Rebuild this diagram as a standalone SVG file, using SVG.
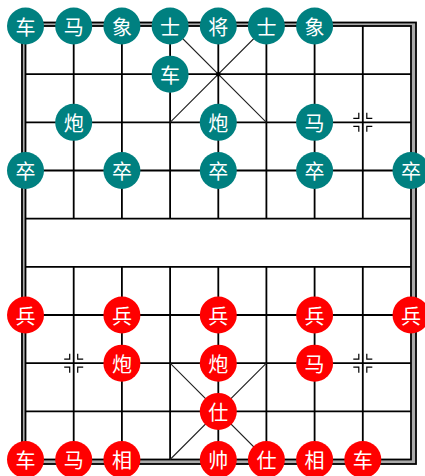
<svg xmlns="http://www.w3.org/2000/svg" width="425" height="476" viewBox="0 0 425 476">
<defs>
<style>
.grid{stroke:#000;stroke-width:1.8;fill:none}
.pal{stroke:#222;stroke-width:1.1;fill:none}
.mk{stroke:#000;stroke-width:1.2;fill:none}
.b circle{fill:#008080}
.r circle{fill:#ff0000}
text{font-family:"Noto Sans CJK SC","Noto Sans CJK TC",sans-serif;font-size:20px;fill:#fff;text-anchor:middle;dominant-baseline:central}
</style>
<g id="marker">
<path d="M-9.5,-4H-4V-9.5M9.5,-4H4V-9.5M-9.5,4H-4V9.5M9.5,4H4V9.5"/>
</g>
</defs>
<rect width="425" height="476" fill="#fff"/>
<g id="board">
<rect x="23.75" y="24.25" width="389.75" height="437.75" fill="none" stroke="#aaa" stroke-width="4"/>
<rect x="22" y="22.5" width="394" height="441.5" class="grid"/>
<rect x="25.5" y="26" width="385.5" height="433.5" class="grid"/>
<path class="grid" d="M25.5,74.2H411M25.5,122.3H411M25.5,170.5H411M25.5,218.7H411M25.5,266.9H411M25.5,315H411M25.5,363.2H411M25.5,411.4H411
M73.7,26V218.7M121.9,26V218.7M170.1,26V218.7M218.3,26V218.7M266.4,26V218.7M314.6,26V218.7M362.8,26V218.7
M73.7,266.9V459.5M121.9,266.9V459.5M170.1,266.9V459.5M218.3,266.9V459.5M266.4,266.9V459.5M314.6,266.9V459.5M362.8,266.9V459.5"/>
<path class="pal" d="M170.1,26L266.4,122.3M266.4,26L170.1,122.3M170.1,363.2L266.4,459.5M266.4,363.2L170.1,459.5"/>
<circle cx="218.3" cy="74.2" r="2.3" fill="#000"/>
<use href="#marker" class="mk" x="362.8" y="122.3"/>
<use href="#marker" class="mk" x="73.7" y="363.2"/>
<use href="#marker" class="mk" x="362.8" y="363.2"/>
</g>
<g id="black-pieces" class="b">
<g id="b-che1"><circle cx="25.5" cy="26" r="18.5"/><text x="25.5" y="26">车</text></g>
<g id="b-ma1"><circle cx="73.7" cy="26" r="18.5"/><text x="73.7" y="26">马</text></g>
<g id="b-xiang1"><circle cx="121.9" cy="26" r="18.5"/><text x="121.9" y="26">象</text></g>
<g id="b-shi1"><circle cx="170.1" cy="26" r="18.5"/><text x="170.1" y="26">士</text></g>
<g id="b-jiang"><circle cx="218.3" cy="26" r="18.5"/><text x="218.3" y="26">将</text></g>
<g id="b-shi2"><circle cx="266.4" cy="26" r="18.5"/><text x="266.4" y="26">士</text></g>
<g id="b-xiang2"><circle cx="314.6" cy="26" r="18.5"/><text x="314.6" y="26">象</text></g>
<g id="b-che2"><circle cx="170.1" cy="74.2" r="18.5"/><text x="170.1" y="74.2">车</text></g>
<g id="b-pao1"><circle cx="73.7" cy="122.3" r="18.5"/><text x="73.7" y="122.3">炮</text></g>
<g id="b-pao2"><circle cx="218.3" cy="122.3" r="18.5"/><text x="218.3" y="122.3">炮</text></g>
<g id="b-ma2"><circle cx="314.6" cy="122.3" r="18.5"/><text x="314.6" y="122.3">马</text></g>
<g id="b-zu1"><circle cx="25.5" cy="170.5" r="18.5"/><text x="25.5" y="170.5">卒</text></g>
<g id="b-zu2"><circle cx="121.9" cy="170.5" r="18.5"/><text x="121.9" y="170.5">卒</text></g>
<g id="b-zu3"><circle cx="218.3" cy="170.5" r="18.5"/><text x="218.3" y="170.5">卒</text></g>
<g id="b-zu4"><circle cx="314.6" cy="170.5" r="18.5"/><text x="314.6" y="170.5">卒</text></g>
<g id="b-zu5"><circle cx="411" cy="170.5" r="18.5"/><text x="411" y="170.5">卒</text></g>
</g>
<g id="red-pieces" class="r">
<g id="r-bing1"><circle cx="25.5" cy="315" r="18.5"/><text x="25.5" y="315">兵</text></g>
<g id="r-bing2"><circle cx="121.9" cy="315" r="18.5"/><text x="121.9" y="315">兵</text></g>
<g id="r-bing3"><circle cx="218.3" cy="315" r="18.5"/><text x="218.3" y="315">兵</text></g>
<g id="r-bing4"><circle cx="314.6" cy="315" r="18.5"/><text x="314.6" y="315">兵</text></g>
<g id="r-bing5"><circle cx="411" cy="315" r="18.5"/><text x="411" y="315">兵</text></g>
<g id="r-pao1"><circle cx="121.9" cy="363.2" r="18.5"/><text x="121.9" y="363.2">炮</text></g>
<g id="r-pao2"><circle cx="218.3" cy="363.2" r="18.5"/><text x="218.3" y="363.2">炮</text></g>
<g id="r-ma2"><circle cx="314.6" cy="363.2" r="18.5"/><text x="314.6" y="363.2">马</text></g>
<g id="r-shi1"><circle cx="218.3" cy="411.4" r="18.5"/><text x="218.3" y="411.4">仕</text></g>
<g id="r-che1"><circle cx="25.5" cy="459.5" r="18.5"/><text x="25.5" y="459.5">车</text></g>
<g id="r-ma1"><circle cx="73.7" cy="459.5" r="18.5"/><text x="73.7" y="459.5">马</text></g>
<g id="r-xiang1"><circle cx="121.9" cy="459.5" r="18.5"/><text x="121.9" y="459.5">相</text></g>
<g id="r-shuai"><circle cx="218.3" cy="459.5" r="18.5"/><text x="218.3" y="459.5">帅</text></g>
<g id="r-shi2"><circle cx="266.4" cy="459.5" r="18.5"/><text x="266.4" y="459.5">仕</text></g>
<g id="r-xiang2"><circle cx="314.6" cy="459.5" r="18.5"/><text x="314.6" y="459.5">相</text></g>
<g id="r-che2"><circle cx="362.8" cy="459.5" r="18.5"/><text x="362.8" y="459.5">车</text></g>
</g>
</svg>
